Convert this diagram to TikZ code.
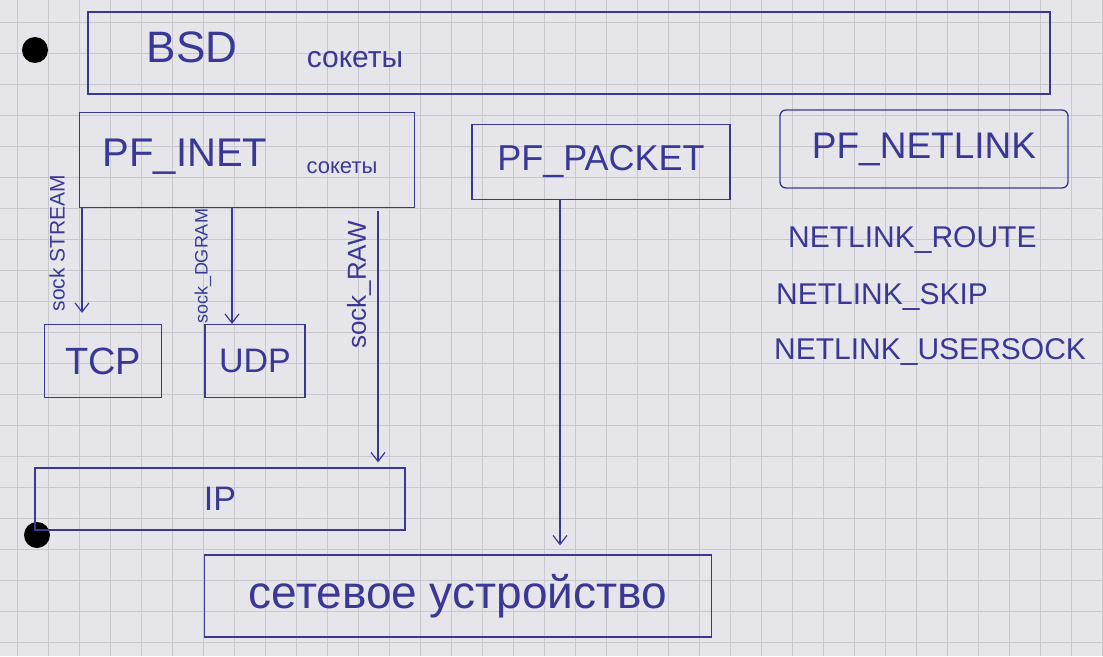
\documentclass[tikz,border=0pt]{standalone}
\usepackage{fontspec}
\setmainfont{Liberation Sans}
\usetikzlibrary{arrows.meta}
\definecolor{ink}{RGB}{58,56,150}
\definecolor{paper}{RGB}{230,230,234}
\definecolor{gridc}{RGB}{200,200,206}
\tikzset{
  box/.style={draw=ink, line width=1.3pt, inner sep=0pt, text=ink},
  txt/.style={text=ink, inner sep=0pt},
  arr/.style={draw=ink, line width=1.2pt, -{Straight Barb[length=9pt,width=14pt,line width=1.2pt]}},
  vlab/.style={text=ink, inner sep=0pt, rotate=90}
}
\begin{document}
\begin{tikzpicture}[x=1pt,y=-1pt]
\fill[paper] (0,0) rectangle (1103,656);
\useasboundingbox (0,0) rectangle (1103,656);
\foreach \k in {0,...,35} {\draw[gridc, line width=0.8pt] (17+31*\k,0) -- (17+31*\k,656);}
\foreach \k in {0,...,21} {\draw[gridc, line width=0.8pt] (0,22+31*\k) -- (1103,22+31*\k);}
\fill[black] (35,50) circle (13);
\fill[black] (37,535) circle (13);

% boxes
\node[box, minimum width=962pt, minimum height=82pt] (bsd) at (569,53) {};
\node[txt, font=\fontsize{44}{44}\selectfont] (bsdt) at (192,47) {BSD};
\node[txt, font=\fontsize{30}{30}\selectfont] (bsds) at (355,60) {сокеты};

\node[box, minimum width=335pt, minimum height=95pt] (inet) at (247,160) {};
\node[txt, font=\fontsize{40}{40}\selectfont] (inett) at (185,157) {PF\_INET};
\node[txt, font=\fontsize{22}{22}\selectfont] (inets) at (342,168) {сокеты};

\node[box, minimum width=258pt, minimum height=75pt, font=\fontsize{36}{36}\selectfont] (packet) at (601,162) {PF\_PACKET};
\node[box, rounded corners=6pt, minimum width=288pt, minimum height=78pt, font=\fontsize{37}{37}\selectfont] (netlink) at (924,149) {PF\_NETLINK};

\node[txt, anchor=west, font=\fontsize{30}{30}\selectfont] (nl1) at (788,240) {NETLINK\_ROUTE};
\node[txt, anchor=west, font=\fontsize{30}{30}\selectfont] (nl2) at (776,297) {NETLINK\_SKIP};
\node[txt, anchor=west, font=\fontsize{30}{30}\selectfont] (nl3) at (774,352) {NETLINK\_USERSOCK};

\node[box, minimum width=117pt, minimum height=73pt, font=\fontsize{38}{38}\selectfont] (tcp) at (103,361) {TCP};
\node[box, minimum width=100pt, minimum height=73pt, font=\fontsize{34}{34}\selectfont] (udp) at (255,361) {UDP};
\node[box, minimum width=370pt, minimum height=62pt, font=\fontsize{34}{34}\selectfont] (ip) at (220,499) {IP};
\node[box, minimum width=507pt, minimum height=82pt, font=\fontsize{46}{46}\selectfont] (dev) at (458,596) {сетевое устройство};

% arrows
\draw[arr, shorten >=11pt] (inet.south -| 82,0) -- (tcp.north -| 82,0);
\draw[arr] (inet.south -| 232,0) -- (udp.north -| 232,0);
\draw[arr, shorten <=3pt, shorten >=5pt] (inet.south -| 378,0) -- (ip.north -| 378,0);
\draw[arr, shorten >=9pt] (packet.south -| 560,0) -- (dev.north -| 560,0);

% arrow labels
\node[vlab, font=\fontsize{21}{21}\selectfont] (l1) at (57,243) {sock STREAM};
\node[vlab, font=\fontsize{18}{18}\selectfont] (l2) at (203,266) {sock\_DGRAM};
\node[vlab, font=\fontsize{26}{26}\selectfont] (l3) at (359,285) {sock\_RAW};
\end{tikzpicture}
\end{document}
